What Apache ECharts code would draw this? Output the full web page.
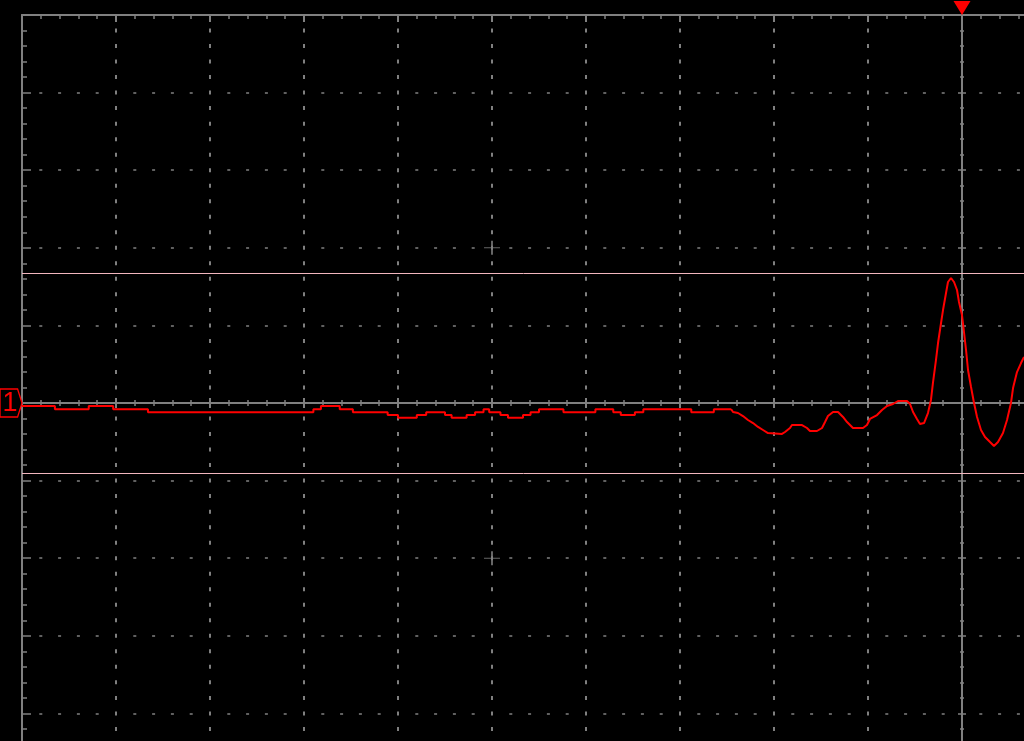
<!DOCTYPE html>
<html>
<head>
<meta charset="utf-8">
<title>Scope capture</title>
<style>
  html, body { margin: 0; padding: 0; background: #000; }
  #chart { width: 1024px; height: 741px; }
</style>
<script src="https://cdn.jsdelivr.net/npm/echarts@6/dist/echarts.min.js"></script>
</head>
<body>
<div id="chart"></div>
<script>
// time and level are both in screen divisions, t = 0 at the trigger

// quiet part of the trace: level holds from each time until the next one
const stepTimes = [-10.00, -9.65, -9.29, -9.03, -8.66, -6.90, -6.82, -6.62, -6.48, -6.11,
  -6.00, -5.80, -5.70, -5.50, -5.43, -5.27, -5.18, -5.09, -5.03, -4.91,
  -4.83, -4.67, -4.59, -4.50, -4.24, -3.90, -3.71, -3.63, -3.48, -3.39,
  -2.88, -2.64, -2.457]
const stepLevels = [-0.04, -0.08, -0.04, -0.08, -0.12, -0.08, -0.04, -0.08, -0.12, -0.155,
  -0.19, -0.155, -0.12, -0.155, -0.19, -0.155, -0.12, -0.08, -0.12, -0.155,
  -0.19, -0.155, -0.12, -0.08, -0.12, -0.08, -0.12, -0.155, -0.12, -0.08,
  -0.12, -0.08, -0.08]

// ringing part around the trigger
const waveTimes = [-2.457, -2.436, -2.383, -2.330, -2.277, -2.223, -2.170, -2.117, -2.064, -1.915,
  -1.883, -1.830, -1.809, -1.702, -1.649, -1.617, -1.543, -1.489, -1.457, -1.426,
  -1.372, -1.319, -1.266, -1.223, -1.160, -1.053, -1.011, -0.979, -0.904, -0.851,
  -0.798, -0.734, -0.681, -0.585, -0.553, -0.521, -0.479, -0.447, -0.404, -0.362,
  -0.330, -0.309, -0.277, -0.255, -0.223, -0.202, -0.170, -0.149, -0.117, -0.085,
  -0.053, -0.032, 0.000, 0.021, 0.043, 0.064, 0.096, 0.128, 0.160, 0.202,
  0.245, 0.298, 0.340, 0.383, 0.436, 0.479, 0.521, 0.543, 0.585, 0.628, 0.660]
const waveLevels = [-0.077, -0.116, -0.129, -0.168, -0.219, -0.258, -0.309, -0.348, -0.387, -0.399,
  -0.374, -0.322, -0.284, -0.284, -0.322, -0.361, -0.361, -0.322, -0.245, -0.168,
  -0.116, -0.116, -0.180, -0.245, -0.322, -0.322, -0.284, -0.206, -0.155, -0.090,
  -0.039, -0.013, 0.026, 0.026, -0.013, -0.116, -0.206, -0.271, -0.258, -0.129,
  0.039, 0.258, 0.554, 0.773, 1.031, 1.198, 1.418, 1.559, 1.611, 1.559,
  1.456, 1.302, 1.134, 0.915, 0.683, 0.425, 0.206, 0.000, -0.180, -0.348,
  -0.438, -0.503, -0.554, -0.503, -0.387, -0.219, 0.000, 0.193, 0.399, 0.515, 0.593]

const cursorLevels = [1.67, -0.90]
const crossMarks = [[-5, 2], [-5, -2]]
const channelName = '1'
const triggerTime = 0

const GRID = '#808080'
const TRACE = '#ff0000'
const CURSOR = '#f2b6be'

const chart = echarts.init(document.getElementById('chart'))

const baseX = { type: 'value', min: -10, max: 1, interval: 1, axisLabel: { show: false }, splitLine: { show: false } }
const baseY = { type: 'value', min: -5, max: 5, interval: 1, axisLabel: { show: false }, splitLine: { show: false } }

const option = {
  backgroundColor: '#000',
  animation: false,
  grid: {
    left: 22,
    right: -32,
    top: 15,
    bottom: -50,
    outerBoundsMode: 'none',
    containLabel: false
  },
  xAxis: [
    {
      // top border with dashed vertical divisions
      ...baseX,
      position: 'top',
      axisLine: { show: true, onZero: false, lineStyle: { color: GRID, width: 2 } },
      axisTick: { show: true, inside: true, length: 7, lineStyle: { color: GRID, width: 2 } },
      minorTick: { show: true, splitNumber: 5, length: 4, lineStyle: { color: GRID, width: 1.5 } },
      splitLine: {
        show: true,
        lineStyle: { color: GRID, width: 2, type: [4, 11.52], dashOffset: 2 }
      }
    },
    {
      // centre line, ticks below
      ...baseX,
      position: 'bottom',
      axisLine: { show: true, onZero: true, onZeroAxisIndex: 0, lineStyle: { color: GRID, width: 2 } },
      axisTick: { show: true, inside: false, length: 5, lineStyle: { color: GRID, width: 2 } },
      minorTick: { show: true, splitNumber: 5, length: 3, lineStyle: { color: GRID, width: 1.5 } }
    },
    {
      // centre line, ticks above
      ...baseX,
      position: 'bottom',
      axisLine: { show: false, onZero: true, onZeroAxisIndex: 0 },
      axisTick: { show: true, inside: true, length: 5, lineStyle: { color: GRID, width: 2 } },
      minorTick: { show: true, splitNumber: 5, length: 3, lineStyle: { color: GRID, width: 1.5 } }
    }
  ],
  yAxis: [
    {
      // left border with dashed horizontal divisions
      ...baseY,
      position: 'left',
      axisLine: { show: true, onZero: false, lineStyle: { color: GRID, width: 2 } },
      axisTick: { show: true, inside: true, length: 9, lineStyle: { color: GRID, width: 1.5 } },
      minorTick: { show: true, splitNumber: 5, length: 5, lineStyle: { color: GRID, width: 1.5 } },
      splitLine: {
        show: true,
        lineStyle: {
          color: GRID,
          width: 1.5,
          type: [3, 15.8, 3, 15.8, 3, 15.8, 3, 34.6],
          dashOffset: 76.7
        }
      }
    },
    {
      // trigger line, ticks to the left
      ...baseY,
      position: 'left',
      axisLine: { show: true, onZero: true, onZeroAxisIndex: 0, lineStyle: { color: GRID, width: 2 } },
      axisTick: { show: true, inside: false, length: 4, lineStyle: { color: GRID, width: 1.5 } },
      minorTick: { show: true, splitNumber: 5, length: 2, lineStyle: { color: GRID, width: 1.5 } }
    },
    {
      // trigger line, ticks to the right
      ...baseY,
      position: 'left',
      axisLine: { show: false, onZero: true, onZeroAxisIndex: 0 },
      axisTick: { show: true, inside: true, length: 4, lineStyle: { color: GRID, width: 1.5 } },
      minorTick: { show: true, splitNumber: 5, length: 2, lineStyle: { color: GRID, width: 1.5 } }
    }
  ],
  series: [
    {
      name: 'CH1 quiet',
      type: 'line',
      step: 'end',
      xAxisIndex: 0,
      yAxisIndex: 0,
      showSymbol: false,
      data: stepTimes.map((t, i) => [t, stepLevels[i]]),
      lineStyle: { color: TRACE, width: 2 },
      z: 5,
      markLine: {
        silent: true,
        symbol: ['none', 'none'],
        label: { show: false },
        lineStyle: { color: CURSOR, type: 'solid', width: 1 },
        data: cursorLevels.map(v => ({ yAxis: v }))
      },
      markPoint: {
        silent: true,
        data: [
          {
            coord: [-10, 0],
            symbol: 'path://M0,0 L18,0 L22.5,14 L18,28 L0,28 Z',
            symbolSize: [22, 28],
            symbolOffset: [-11, 0],
            itemStyle: { color: '#000', borderColor: TRACE, borderWidth: 1.5 },
            label: {
              show: true,
              position: 'inside',
              formatter: channelName,
              color: TRACE,
              fontSize: 27,
              fontFamily: 'Liberation Sans',
              offset: [-1, 1]
            }
          },
          {
            coord: [triggerTime, 5],
            symbol: 'path://M0,0 L17,0 L8.5,14 Z',
            symbolSize: [17, 14],
            symbolOffset: [0, -7],
            itemStyle: { color: TRACE },
            label: { show: false }
          }
        ]
      }
    },
    {
      name: 'CH1 ringing',
      type: 'line',
      xAxisIndex: 0,
      yAxisIndex: 0,
      showSymbol: false,
      data: waveTimes.map((t, i) => [t, waveLevels[i]]),
      lineStyle: { color: TRACE, width: 2 },
      z: 5
    },
    {
      name: 'centre marks',
      type: 'scatter',
      xAxisIndex: 0,
      yAxisIndex: 0,
      silent: true,
      symbol: 'path://M0,6.5H16V7.5H0Z M7,0H9V14H7Z',
      symbolSize: [16, 14],
      itemStyle: { color: GRID },
      data: crossMarks
    }
  ]
}

chart.setOption(option)
window.addEventListener('resize', () => chart.resize())
</script>
</body>
</html>
